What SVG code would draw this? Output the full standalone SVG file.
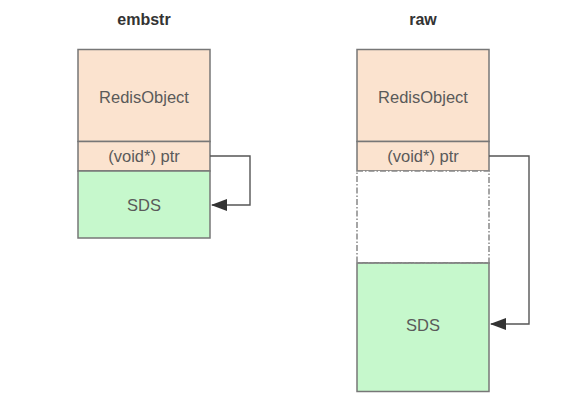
<svg xmlns="http://www.w3.org/2000/svg" width="588" height="407" viewBox="0 0 588 407">
<defs>
<marker id="arr" viewBox="0 0 16 12" refX="15" refY="6" markerWidth="16" markerHeight="12" markerUnits="userSpaceOnUse" orient="auto">
<path d="M0,0 L16,6 L0,12 Z" fill="#333"/>
</marker>
</defs>
<style>
.t{font-family:"Liberation Sans",Arial,sans-serif;font-size:16.5px;fill:#5a5a5a;text-anchor:middle}
.h{font-family:"Liberation Sans",Arial,sans-serif;font-size:16px;font-weight:bold;fill:#333;text-anchor:middle}
.ro{fill:#FBE3CF;stroke:#777;stroke-width:1.5}
.sds{fill:#C6F8CC;stroke:#777;stroke-width:1.5}
.dash{fill:#fff;stroke:#888;stroke-width:1.5;stroke-dasharray:6 2 1.5 2}
.c{fill:none;stroke:#555;stroke-width:1.4}
</style>
<rect width="588" height="407" fill="#fff"/>
<text class="h" x="144" y="25">embstr</text>
<text class="h" x="423" y="25">raw</text>
<g id="embstr">
<rect class="ro" x="78" y="49.5" width="132" height="92"/>
<text class="t" x="144" y="103">RedisObject</text>
<rect class="ro" x="78" y="141.5" width="132" height="29.5"/>
<text class="t" x="144" y="162">(void*) ptr</text>
<rect class="sds" x="78" y="171" width="132" height="67"/>
<text class="t" x="144" y="211">SDS</text>
</g>
<g id="raw">
<rect class="ro" x="357" y="49.5" width="132" height="92"/>
<text class="t" x="423" y="103">RedisObject</text>
<rect class="ro" x="357" y="141.5" width="132" height="29.5"/>
<text class="t" x="423" y="162">(void*) ptr</text>
<rect class="dash" x="357" y="171" width="132" height="92"/>
<rect class="sds" x="357" y="263" width="132" height="128.5"/>
<line x1="357" y1="263" x2="489" y2="263" stroke="#888" stroke-width="1.5" stroke-dasharray="6 2 1.5 2"/>
<text class="t" x="423" y="331">SDS</text>
</g>
<g id="connectors">
<path class="c" d="M210,156 H250 V205 H212" marker-end="url(#arr)"/>
<path class="c" d="M489,156 H529 V324 H491" marker-end="url(#arr)"/>
</g>
</svg>
